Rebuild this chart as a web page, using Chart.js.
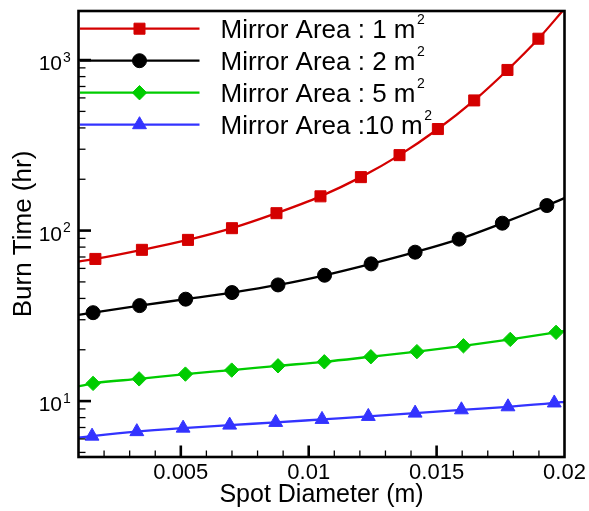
<!DOCTYPE html>
<html><head><meta charset="utf-8">
<script src="https://cdn.jsdelivr.net/npm/chart.js@4.4.1/dist/chart.umd.min.js"></script>
<style>html,body{margin:0;padding:0;background:#fff}</style>
</head><body>
<canvas id="c" width="589" height="511"></canvas>
<script>
// ---- data ----
const seriesLabels = ['Mirror Area : 1 m', 'Mirror Area : 2 m', 'Mirror Area : 5 m', 'Mirror Area :10 m'];
const labelExponent = '2';

const area1X = [0.001, 0.00166, 0.00348, 0.00528, 0.00700, 0.00874, 0.01046, 0.01204, 0.01355, 0.01505, 0.01647, 0.01777, 0.01898, 0.02];
const area1Y = [65.8, 68.2, 77.1, 88.2, 103.3, 126.5, 158.8, 205.8, 277, 394, 580, 875, 1334, 2000];

const area2X = [0.001, 0.00157, 0.00339, 0.00519, 0.00700, 0.00880, 0.01062, 0.01244, 0.01416, 0.01588, 0.01757, 0.01931, 0.02];
const area2Y = [32.0, 33.0, 36.3, 39.6, 43.3, 48.0, 54.7, 63.8, 74.7, 89.1, 110.5, 140.2, 155];

const area5X = [0.001, 0.00157, 0.00337, 0.00518, 0.00699, 0.00880, 0.01061, 0.01243, 0.01423, 0.01605, 0.01788, 0.01967, 0.02];
const area5Y = [12.2, 12.7, 13.5, 14.4, 15.2, 16.1, 17.0, 18.2, 19.5, 21.1, 23.0, 25.3, 25.8];

const area10X = [0.001, 0.00153, 0.00328, 0.00509, 0.00691, 0.00871, 0.01052, 0.01233, 0.01416, 0.01597, 0.01779, 0.01960, 0.02];
const area10Y = [6.1, 6.23, 6.62, 6.94, 7.23, 7.50, 7.81, 8.13, 8.50, 8.89, 9.26, 9.75, 9.9];

const xMin = 0.001, xMax = 0.02, xStep = 0.001;
const xMajorTicks = [0.005, 0.01, 0.015, 0.02];
const yMin = 4.7, yMax = 1940;
const yDecades = [1, 2, 3];

const xTitle = 'Spot Diameter (m)';
const yTitle = 'Burn Time (hr)';

// ---- styling ----
const FONT = "'Liberation Sans', Arial, Helvetica, sans-serif";
const colors = ['#d40000', '#000000', '#00cc00', '#3333ff'];
const styles = ['rect', 'circle', 'rectRot', 'triangle'];
const radii = [7.8, 7, 7.2, 8];

function pts(xs, ys) { return xs.map((x, i) => ({x: x, y: ys[i]})); }
const allData = [pts(area1X, area1Y), pts(area2X, area2Y), pts(area5X, area5Y), pts(area10X, area10Y)];

const datasets = allData.map((d, k) => ({
  label: seriesLabels[k] + labelExponent,
  data: d,
  borderColor: colors[k],
  backgroundColor: colors[k],
  pointBackgroundColor: colors[k],
  pointBorderColor: colors[k],
  pointBorderWidth: 1,
  borderWidth: 2.3,
  pointStyle: styles[k],
  pointRadius: (ctx) => (ctx.dataIndex === 0 || ctx.dataIndex === d.length - 1) ? 0 : radii[k],
  cubicInterpolationMode: 'monotone',
  fill: false
}));

const axesPlugin = {
  id: 'axesDecor',
  afterDatasetsDraw(chart) {
    const {ctx, chartArea: a, scales: {x, y}} = chart;
    ctx.save();
    ctx.strokeStyle = '#000';
    ctx.lineCap = 'butt';
    // x ticks (inward)
    x.ticks.forEach(t => {
      const v = t.value;
      if (v <= x.min + 1e-9 || v >= x.max - 1e-9) return;
      const major = xMajorTicks.some(m => Math.abs(m - v) < 1e-9);
      const px = x.getPixelForValue(v);
      ctx.lineWidth = major ? 2.6 : 1.3;
      ctx.beginPath();
      ctx.moveTo(px, a.bottom);
      ctx.lineTo(px, a.bottom - (major ? 11.5 : 6.5));
      ctx.stroke();
    });
    // y ticks (inward)
    for (let d = 0; d <= 3; d++) {
      for (let m = 1; m <= 9; m++) {
        const v = m * Math.pow(10, d);
        if (v <= y.min || v >= y.max) continue;
        const py = y.getPixelForValue(v);
        const major = m === 1;
        ctx.lineWidth = major ? 2.6 : 1.3;
        ctx.beginPath();
        ctx.moveTo(a.left, py);
        ctx.lineTo(a.left + (major ? 12.5 : 7), py);
        ctx.stroke();
      }
    }
    // y tick labels 10^n
    ctx.fillStyle = '#000';
    ctx.textBaseline = 'alphabetic';
    yDecades.forEach(n => {
      const py = y.getPixelForValue(Math.pow(10, n));
      ctx.font = '21px ' + FONT;
      ctx.textAlign = 'right';
      ctx.fillText('10', a.left - 16.5, py + 10);
      ctx.font = '14px ' + FONT;
      ctx.textAlign = 'left';
      ctx.fillText(String(n), a.left - 15.5, py + 1.5);
    });
    // frame
    ctx.lineWidth = 2.6;
    ctx.strokeRect(a.left, a.top, a.right - a.left, a.bottom - a.top);
    ctx.restore();
  },
  afterDraw(chart) {
    const {ctx, chartArea: a} = chart;
    ctx.save();
    chart.data.datasets.forEach((ds, k) => {
      const ry = a.top + 17.7 + k * 32;
      ctx.strokeStyle = ds.borderColor;
      ctx.lineWidth = 2.3;
      ctx.beginPath();
      ctx.moveTo(a.left + 1.5, ry);
      ctx.lineTo(a.left + 121, ry);
      ctx.stroke();
      ctx.fillStyle = ds.backgroundColor;
      ctx.strokeStyle = ds.borderColor;
      ctx.lineWidth = 1;
      Chart.helpers.drawPoint(ctx, {pointStyle: styles[k], radius: radii[k], rotation: 0, borderWidth: 1}, a.left + 61, ry);
      ctx.fillStyle = '#000';
      ctx.textAlign = 'left';
      ctx.textBaseline = 'alphabetic';
      ctx.font = '26px ' + FONT;
      const base = seriesLabels[k];
      ctx.fillText(base, a.left + 142, ry + 9.5);
      const w = ctx.measureText(base).width;
      ctx.font = '14px ' + FONT;
      ctx.fillText(labelExponent, a.left + 142 + w + 1.5, ry - 4.5);
    });
    ctx.restore();
  }
};

new Chart(document.getElementById('c'), {
  type: 'line',
  data: {datasets: datasets},
  options: {
    responsive: false,
    devicePixelRatio: 1,
    animation: false,
    layout: {padding: {top: 11, right: 24.5, left: 0, bottom: 0}},
    plugins: {legend: {display: false}, tooltip: {enabled: false}},
    scales: {
      x: {
        type: 'linear',
        min: xMin, max: xMax,
        afterFit: (s) => { s.height = 54; },
        grid: {display: false, drawTicks: false, tickLength: 0},
        border: {display: false},
        ticks: {
          stepSize: xStep,
          autoSkip: false,
          maxRotation: 0,
          padding: 3,
          color: '#000',
          font: {family: FONT, size: 22},
          callback: (v) => xMajorTicks.some(m => Math.abs(m - v) < 1e-9) ? String(Math.round(v * 1000) / 1000) : ''
        },
        title: {display: true, text: xTitle, color: '#000', font: {family: FONT, size: 25}, padding: {top: 0, bottom: 1}}
      },
      y: {
        type: 'logarithmic',
        min: yMin, max: yMax,
        afterFit: (s) => { s.width = 78.5; },
        grid: {display: false, drawTicks: false, tickLength: 0},
        border: {display: false},
        ticks: {display: false},
        title: {display: true, text: yTitle, color: '#000', font: {family: FONT, size: 26}, padding: {top: 8.7, bottom: 0}}
      }
    }
  },
  plugins: [axesPlugin]
});
</script>
</body></html>
